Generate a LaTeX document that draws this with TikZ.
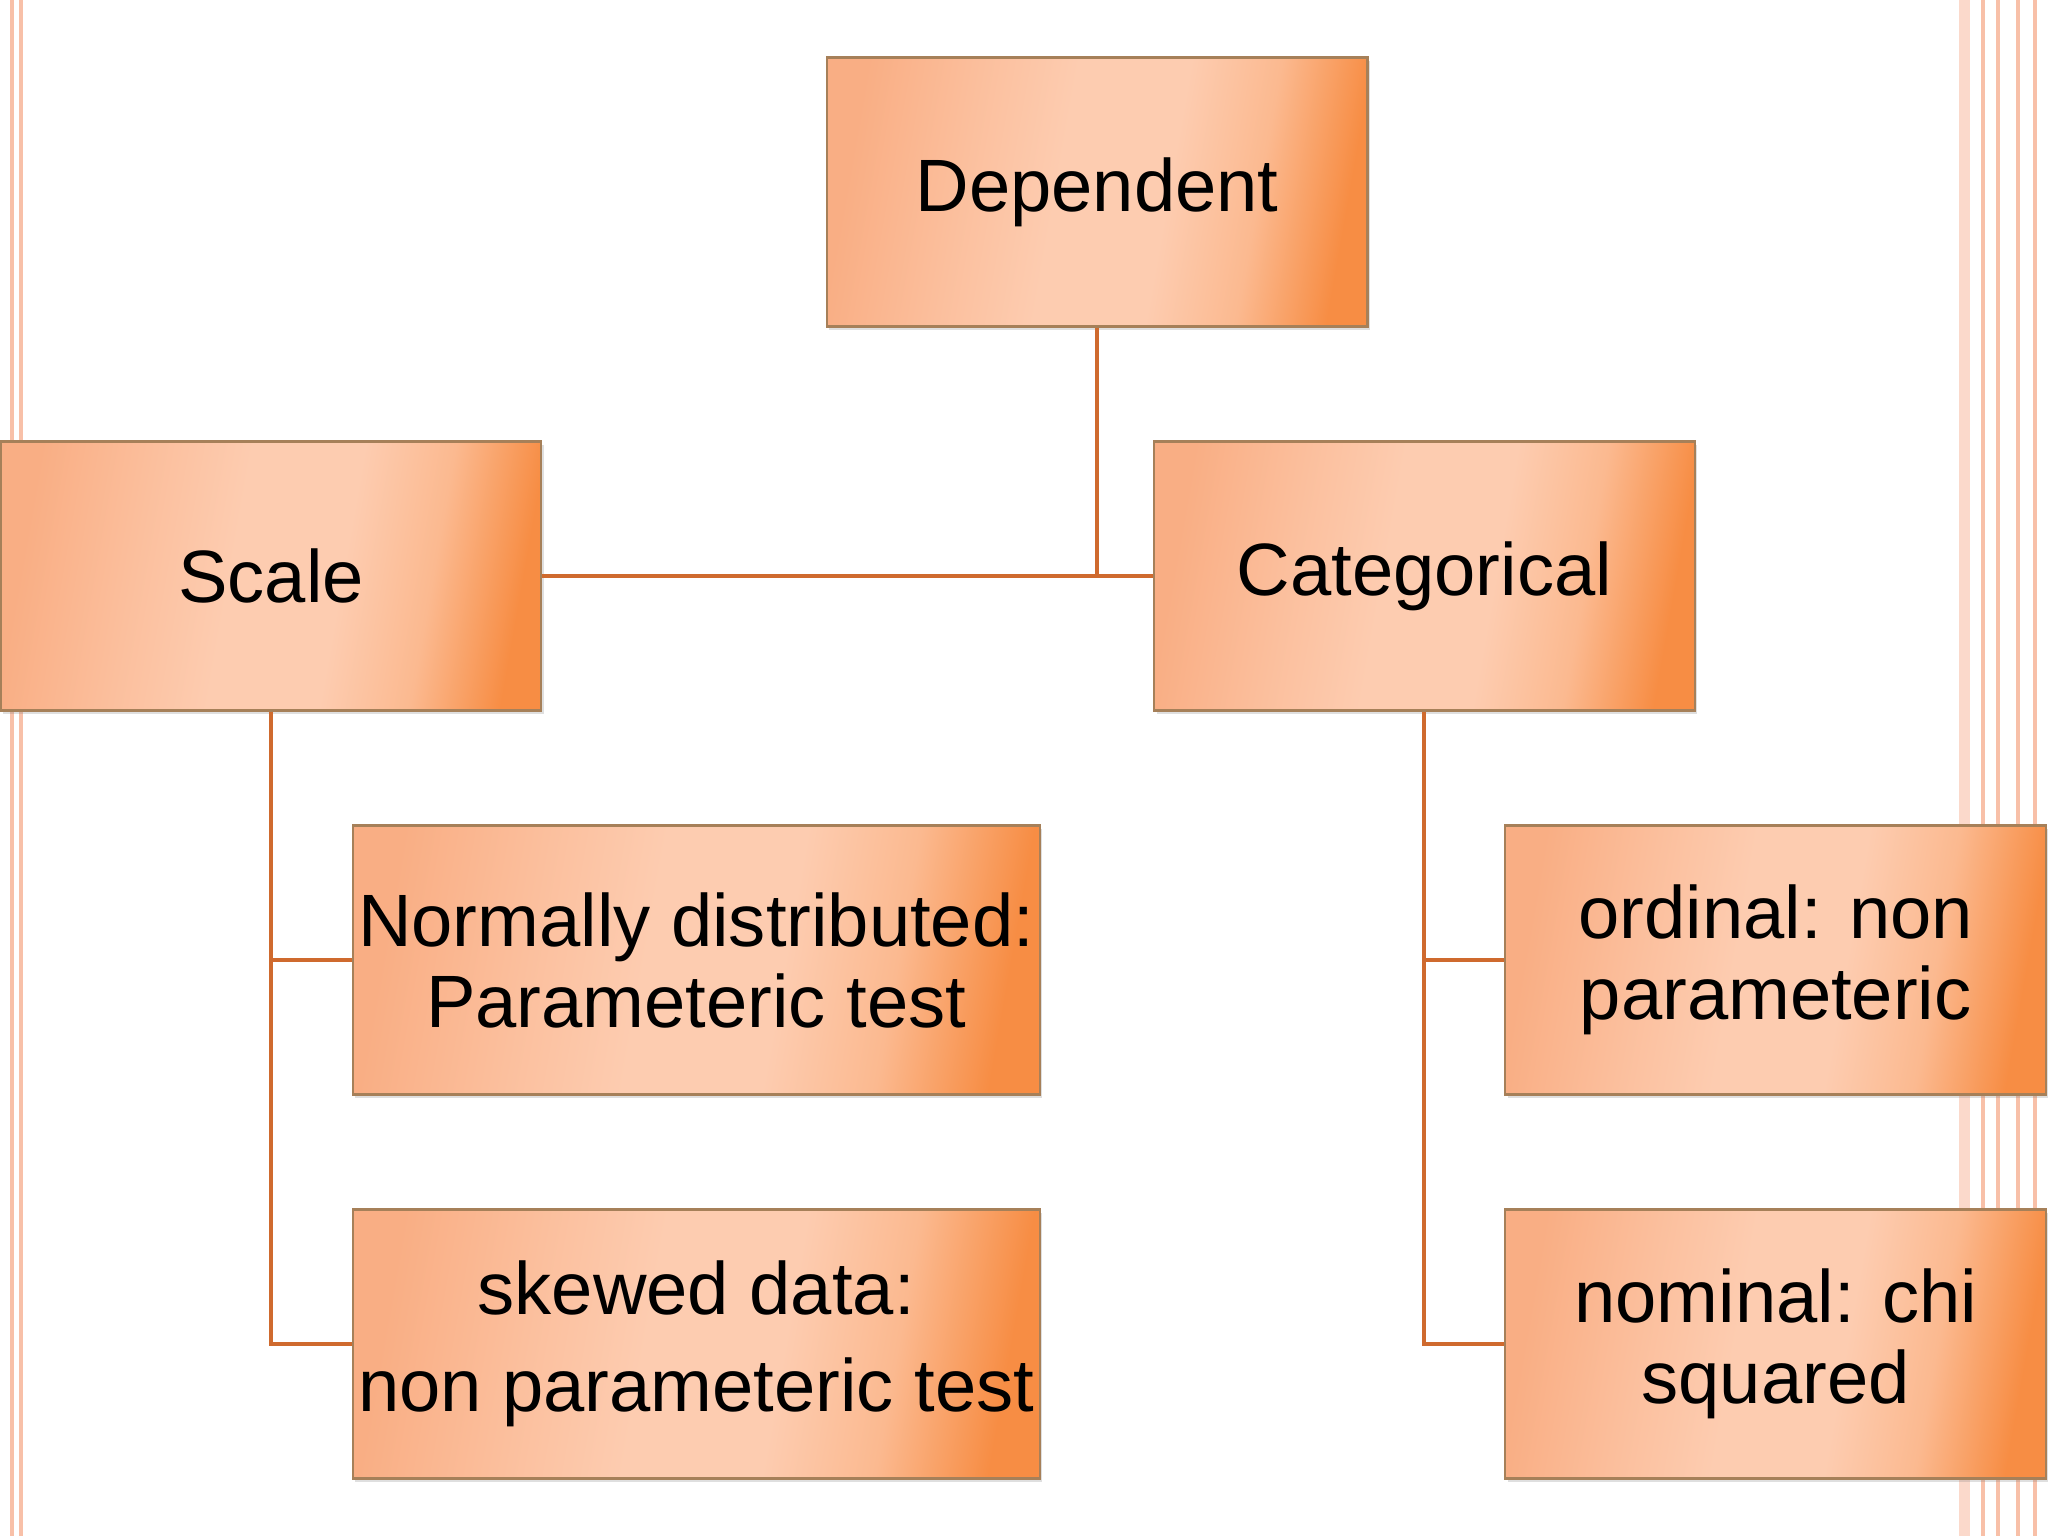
\documentclass[tikz,border=0pt]{standalone}
\usepackage{fontspec}
\setmainfont{Liberation Sans}
\usetikzlibrary{shadows}
\definecolor{boxL}{HTML}{F9AE84}
\definecolor{boxM}{HTML}{FDCCB0}
\definecolor{boxR}{HTML}{F78D44}
\definecolor{lnk}{HTML}{CF6A2E}
\definecolor{deco}{HTML}{F8C0A8}
\pgfdeclarehorizontalshading{boxshade}{100bp}{color(0bp)=(boxL); color(25bp)=(boxL); color(37bp)=(boxL!40!boxM); color(46bp)=(boxM); color(57bp)=(boxM); color(66bp)=(boxM!70!boxR); color(75bp)=(boxR); color(100bp)=(boxR)}
\tikzset{
  box/.style={draw=gray!70!orange, line width=0.8pt, shading=boxshade, shading angle=-10,
    drop shadow={opacity=0.25,shadow xshift=1pt,shadow yshift=-1.5pt},
    minimum width=207pt, minimum height=103pt, align=center, inner sep=1pt,
    font=\fontsize{28.4}{31}\selectfont},
  wide/.style={minimum width=263pt},
  link/.style={lnk, line width=1.6pt}
}
\begin{document}
\begin{tikzpicture}[x=0.5pt,y=-0.5pt]
\useasboundingbox (0,0) rectangle (1568,1176);
\fill[white] (0,0) rectangle (1568,1176);
% decorative lines
\draw[deco, line width=1.5pt] (9,0) -- (9,1176);
\draw[deco, line width=1.5pt] (16,0) -- (16,1176);
\fill[deco!60] (1500,0) rectangle (1508,1176);
\draw[deco, line width=1.5pt] (1518,0) -- (1518,1176);
\draw[deco, line width=1.5pt] (1530,0) -- (1530,1176);
\draw[deco, line width=1.5pt] (1545,0) -- (1545,1176);
\draw[deco, line width=1.5pt] (1558,0) -- (1558,1176);
% nodes
\node[box] (dep) at (840,147) {Dependent};
\node[box] (scale) at (207.5,441) {Scale};
\node[box] (cat) at (1090.5,441) {Categorical};
\node[box,wide] (norm) at (533,735) {Normally distributed:\\Parameteric test};
\node[box,wide] (skew) at (533,1029) {skewed data:\\[6pt]non parameteric test};
\node[box] (ord) at (1359.5,735) {ordinal: non\\parameteric};
\node[box] (nom) at (1359.5,1029) {nominal: chi\\squared};
% connectors
\coordinate (j) at (840,440);
\draw[link] (dep.south) -- (j);
\draw[link] (scale.east) -- (cat.west);
\draw[link] (scale.south) |- (skew.west);
\draw[link] (scale.south |- norm.west) -- (norm.west);
\draw[link] (cat.south) |- (nom.west);
\draw[link] (cat.south |- ord.west) -- (ord.west);
\end{tikzpicture}
\end{document}
